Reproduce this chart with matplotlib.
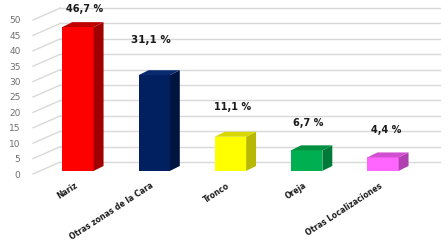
import matplotlib
matplotlib.use("Agg")
import matplotlib.pyplot as plt
from matplotlib.patches import Polygon

categories = ["Nariz", "Otras zonas de la Cara", "Tronco", "Oreja", "Otras Localizaciones"]
values = [46.7, 31.1, 11.1, 6.7, 4.4]
value_labels = ["46,7 %", "31,1 %", "11,1 %", "6,7 %", "4,4 %"]
yticks = [0, 5, 10, 15, 20, 25, 30, 35, 40, 45, 50]

front_colors = ["#FF0000", "#002060", "#FFFF00", "#00B050", "#FF66FF"]
side_colors = ["#A00000", "#001440", "#B8B800", "#007A38", "#B040B0"]
top_colors = ["#C00000", "#0A2A70", "#D8D800", "#009040", "#D050D0"]
label_offsets = [4.2, 9.8, 8.0, 7.2, 7.3]
label_dx = [0.09, -0.04, 0.03, 0.02, 0.04]

W, H = 448, 247
fig = plt.figure(figsize=(W / 100, H / 100), dpi=100)
x_left_px, x_right_px = 33, 440
y0_px = 174
px_per_unit = 3.08
ylim = (-1.0, 55.0)
ax_bottom = (H - y0_px) + ylim[0] * px_per_unit
ax_height = (ylim[1] - ylim[0]) * px_per_unit
ax = fig.add_axes([x_left_px / W, ax_bottom / H, (x_right_px - x_left_px) / W, ax_height / H])
ax.set_ylim(*ylim)
step = 76.25
xlim = (-(78 - x_left_px) / step, (x_right_px - 78) / step)
ax.set_xlim(*xlim)

wall_dx, wall_dy = 0.36, 3.9
bar_w = 0.41
bar_base = 1.0
bdx, bdy = 0.13, 1.6

grid_c = "#D9D9D9"
for v in yticks:
    ax.plot([xlim[0], xlim[0] + wall_dx], [v, v + wall_dy], color=grid_c, lw=1.0, zorder=1, clip_on=False)
    ax.plot([xlim[0] + wall_dx, xlim[1]], [v + wall_dy, v + wall_dy], color=grid_c, lw=1.0, zorder=1, clip_on=False)

xs = list(range(len(categories)))
ax.bar(xs, values, width=bar_w, bottom=bar_base, color=front_colors, zorder=3, linewidth=0)
for i, v in enumerate(values):
    xr = xs[i] + bar_w / 2
    xl = xs[i] - bar_w / 2
    top = bar_base + v
    side = Polygon([(xr, bar_base), (xr + bdx, bar_base + bdy), (xr + bdx, top + bdy), (xr, top)],
                   closed=True, facecolor=side_colors[i], edgecolor="none", zorder=3)
    ax.add_patch(side)
    tp = Polygon([(xl, top), (xr, top), (xr + bdx, top + bdy), (xl + bdx, top + bdy)],
                 closed=True, facecolor=top_colors[i], edgecolor="none", zorder=3)
    ax.add_patch(tp)
    ax.text(xs[i] + label_dx[i], top + label_offsets[i], value_labels[i], ha="center", va="bottom",
            fontsize=7.5 if i == 1 else 7, fontweight="bold", color="#1a1a1a", zorder=4)

for s in ax.spines.values():
    s.set_visible(False)
ax.set_yticks(yticks)
ax.set_yticklabels([str(t) for t in yticks], fontsize=6.5, color="#707070")
ax.tick_params(axis="y", length=0, pad=9)
ax.set_xticks([])
for i, c in enumerate(categories):
    ax.text(xs[i] - 0.05, -2.3, c, rotation=33, ha="right", va="top", rotation_mode="anchor",
            fontsize=5.5, fontweight="bold", color="#1a1a1a")

fig.savefig("out.png", dpi=100, facecolor="white")
